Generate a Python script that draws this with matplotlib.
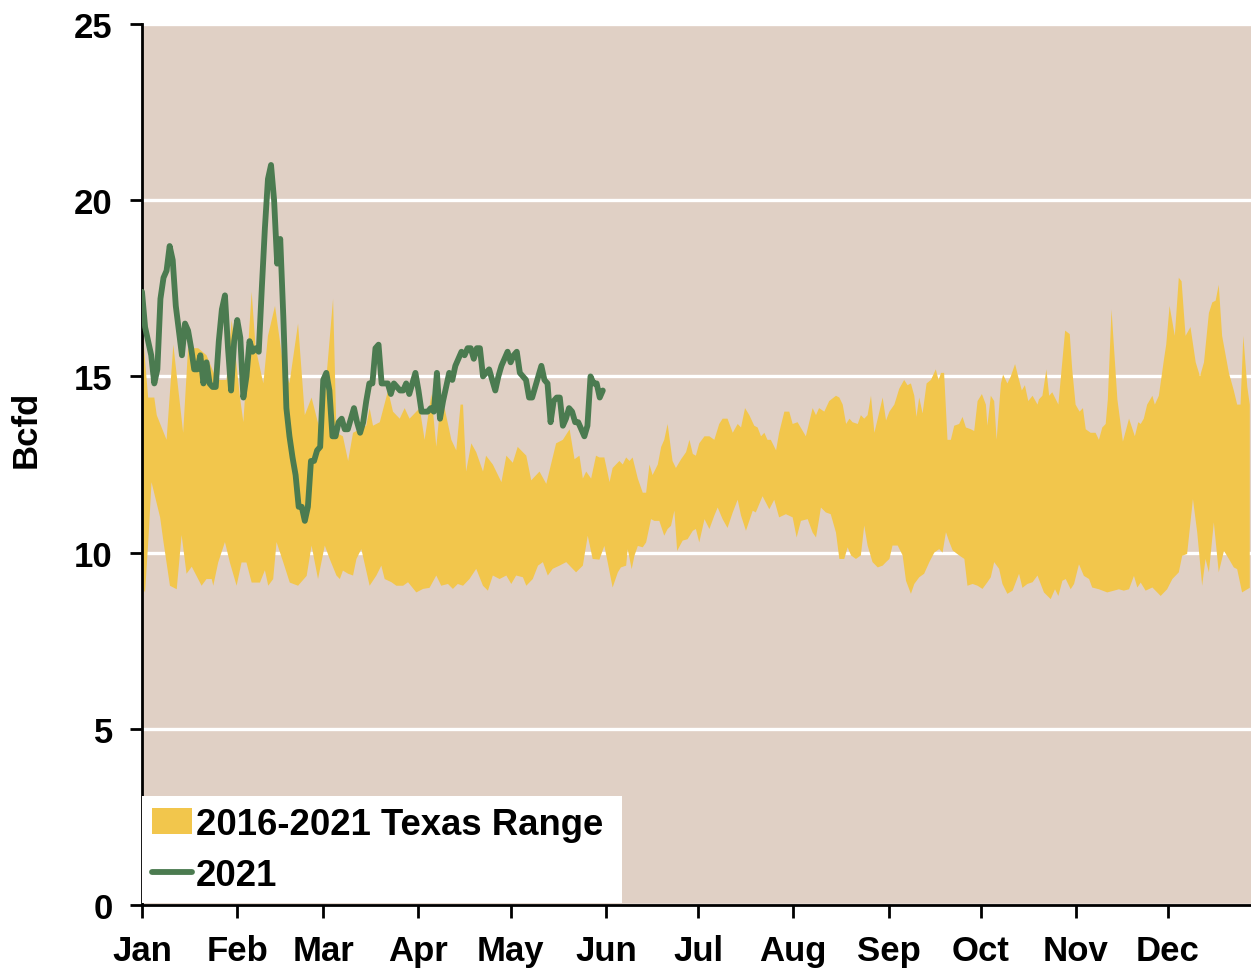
import numpy as np
import matplotlib.pyplot as plt

# --- data (x = day of year, y = Bcfd) ---
month_start = [0, 31, 59, 90, 120, 151, 181, 212, 243, 273, 304, 334]
month_names = ['Jan', 'Feb', 'Mar', 'Apr', 'May', 'Jun',
               'Jul', 'Aug', 'Sep', 'Oct', 'Nov', 'Dec']

# top edge of the 2016-2021 range
upper_days = [0, 2, 4, 4.8, 8, 10.2, 13.4, 15, 18.3, 21, 24.3, 27.5, 29.2, 31.9, 33,
              35.7, 37, 39.5, 41, 43.3, 46, 48, 50.8, 53, 55.2, 58.4, 62.2,
              63.3, 65.4, 67.1, 68.7, 70.9, 73, 74.1, 75.2, 77.4, 80.1, 81.7, 83.9,
              85.5, 87.1, 90.4, 92, 94.2, 95.8, 96.9, 98.5, 100.7, 102.3, 103.7,
              104.5, 105.5, 107.2, 108.8, 111, 112, 114.2, 117, 118.6, 120.7, 122.3,
              125.1, 126.7, 129.4, 131.6, 134.8, 137, 139.2, 140.8, 142.4, 143.5,
              144.6, 146.2, 147.8,
              148.9, 150.5, 152.2, 153.2, 155.4, 156.5, 157.6, 158.7, 159.7, 161.4,
              163, 164.1, 165.2, 166.2, 167.9, 169, 170, 171.1, 172.7, 173.8, 175.5,
              177.1, 178.2, 179.3, 180.3, 181.4, 183.1, 184.7, 186.3, 187.9, 189,
              190.6, 192.3, 193.9, 195, 196.3, 197.7, 199.3, 200.4, 201.5, 202.6,
              203.6, 204.7, 206.4, 207.4, 209.1, 210.7, 211.8, 213.4, 216.1, 218.3,
              219.4, 220.4, 222.1, 223.7, 225.9,
              227, 228.1, 229.2, 230.3, 231.3, 233, 234, 235.1, 236.2, 237.3, 238.4,
              239.5, 241.1, 242.2, 243.3, 244.9, 246.5, 248.1, 249.2, 250.3, 251.4,
              252.1, 253, 254.1, 255.4, 256.8, 258.4, 259.3, 260.1, 261.1, 262.2,
              263.3, 264.4, 266, 267.1, 268.2, 269.8, 270.9, 272, 273.4, 274.7,
              275.2, 276.3, 277.4, 278.2, 279.6, 280.3, 281.7, 282.8, 284.2, 285.5,
              286.4, 287.4, 288.5, 289.9, 291.5,
              292, 293.1, 294.4, 295.3, 296.3, 298.3, 300.5, 302, 302.8, 303.9,
              305.2, 306.3, 307.2, 308.8, 310.4, 311.5, 312.6, 313.7, 314.4, 315.6,
              317.5, 319.3, 321.3, 323.2, 324.3, 325.1, 326.1, 327.2, 328.9, 329.7,
              331, 332.7, 333.4, 334.5, 336.2, 337.5, 338.4, 339.7, 341.3, 343,
              344.4, 345.7, 347.3, 348.4, 349.5, 350.5, 351.6, 353.8, 355.4, 356.5,
              357.6, 358.5, 359.8, 360.6]
upper_bcfd = [16.5, 14.4, 14.4, 13.9, 13.2, 15.9, 13.4, 15.8, 15.8, 15.6, 14.9, 14.9, 16.6, 14.4, 13.7,
              17.4, 15.8, 14.8, 16.15, 17.0, 15.3, 14.8, 16.5, 13.9, 14.4, 13.3, 17.2,
              13.4, 13.3, 12.6, 13.4, 13.5, 13.6, 14.1, 13.6, 13.7, 14.6, 14.0, 13.8,
              14.1, 13.8, 14.1, 13.2, 14.5, 13.0, 14.0, 14.1, 13.2, 12.9, 14.2,
              14.2, 12.3, 13.1, 12.85, 12.3, 12.75, 12.5, 12.0, 12.75, 12.55, 13.0,
              12.75, 12.05, 12.3, 11.95, 13.1, 13.2, 13.5, 12.65, 12.75, 12.1,
              12.3, 12.1, 12.75,
              12.7, 12.7, 12.0, 12.4, 12.6, 12.5, 12.7, 12.6, 12.7, 12.1,
              11.7, 11.7, 12.5, 12.2, 12.5, 13.0, 13.2, 13.65, 12.6, 12.4, 12.65,
              12.85, 13.2, 12.8, 12.75, 13.1, 13.3, 13.3, 13.2, 13.65, 13.8,
              13.8, 13.4, 13.65, 13.55, 14.1, 13.9, 13.6, 13.55, 13.3, 13.4,
              13.2, 13.2, 12.9, 13.4, 14.0, 14.0, 13.65, 13.7, 13.3, 14.1,
              13.9, 14.1, 14.0, 14.3, 14.45,
              14.4, 14.2, 13.65, 13.8, 13.7, 13.65, 13.9, 13.8, 13.9, 14.45, 13.4,
              13.8, 14.4, 13.75, 14.0, 14.2, 14.65, 14.9, 14.75, 14.8, 14.45,
              13.85, 14.4, 13.95, 14.8, 14.9, 15.2, 14.9, 15.1, 15.1, 13.2,
              13.2, 13.6, 13.65, 13.85, 13.55, 13.5, 13.45, 14.3, 14.5, 14.2,
              13.6, 14.45, 14.3, 13.2, 14.8, 15.05, 14.8, 15.0, 15.35, 14.9,
              14.6, 14.75, 14.3, 14.45, 14.2,
              14.35, 14.45, 15.2, 14.45, 14.55, 14.2, 16.3, 16.2, 15.2, 14.2,
              14.0, 14.1, 13.5, 13.4, 13.4, 13.2, 13.55, 13.65, 14.35, 16.9,
              14.35, 13.15, 13.8, 13.3, 13.7, 13.65, 13.8, 14.2, 14.45, 14.2,
              14.45, 15.5, 15.9, 17.0, 16.15, 17.8, 17.7, 16.15, 16.4, 15.4,
              15.0, 15.4, 16.8, 17.1, 17.15, 17.6, 16.15, 15.1, 14.6, 14.2,
              14.2, 16.15, 14.7, 14.2]

# bottom edge of the 2016-2021 range
lower_days = [0, 1, 2.1, 3.1, 5.9, 7, 9.1, 11.3, 12.9, 14.5, 16.2, 19.4, 21, 22.7, 23.2,
              24.8, 27, 28.6, 30.8, 32.4, 34, 35.7, 38.4, 40, 41.1, 42.7, 43.8, 46,
              48.1, 50.8, 53.6, 55.2, 57.3, 59.5,
              61.1, 63.3, 64.4, 65.4, 67.1, 68.7, 69.8, 71.4, 74.1, 76.3, 77.9, 79,
              81.2, 82.8, 85, 86.6, 89.3, 91.5, 93.6, 95.8, 97.4, 99.6, 101.2, 102.8,
              104.5, 106.6, 108.8, 111, 112.6, 114.2, 116.4, 118.6, 120.2, 121.8, 124,
              125.1, 127.2, 128.9, 130.5, 132.1, 133.7, 135.9, 138.1, 141.3, 143.5,
              145.1, 146.7,
              148.9, 150.5, 151.6, 153.2, 154.9, 155.9, 157.6, 158.1, 159.4, 160.3,
              161.4, 163, 164.1, 165.7, 166.8, 168.4, 170, 171.1, 172.2, 173.3, 174.2,
              176, 177.6, 179.3, 180.3, 181.4, 183.1, 184.7, 186.3, 187.4, 189, 190.6,
              192.3, 193.9, 195, 196.6, 198.8, 199.8, 202, 204.2, 205.8, 207.4, 209.6,
              211.8, 213.1, 214.5, 216.7, 218.3, 219.4, 220.4, 221, 222.6, 224.2, 225.9,
              227, 228.6, 229.7, 230.8, 232.4, 234, 235.1, 236.2, 237.8, 239.5, 241.1,
              242.2, 243.3, 244.3, 246, 247.6, 248.7, 250.3, 251.4, 253, 254.6, 256.3,
              257.9, 259.5, 260.6, 261.7, 262.8, 263.9, 266, 267.7, 268.7, 270.4, 272,
              273.6, 275.2, 276.3, 277.4, 279, 280.1, 281.7, 283.4, 285.5, 286.6,
              288.2, 289.9, 291.5,
              293.6, 295.8, 297.2, 298.3, 299.6, 300.7, 302.3, 303.4, 305, 306.6,
              308.3, 309.3, 311.5, 314.2, 316.4, 318, 319.6, 321.3, 322.9, 324, 325.1,
              326.7, 328.9, 331.6, 333.7, 335.4, 337.5, 338.6, 340.2, 342.1, 343.5,
              345.1, 346.2, 347.3, 348.9, 350.5, 352.2, 353.8, 355.4, 356.5, 358.1,
              359.8, 360.6]
lower_bcfd = [9.06, 8.87, 10.4, 12.0, 11.0, 10.3, 9.06, 8.96, 10.5, 9.4, 9.6, 9.06, 9.25, 9.25, 9.06,
              9.72, 10.3, 9.72, 9.06, 9.72, 9.72, 9.15, 9.15, 9.5, 9.06, 9.25, 10.3, 9.72,
              9.15, 9.06, 9.34, 10.2, 9.25, 10.2,
              9.82, 9.35, 9.25, 9.49, 9.4, 9.35, 9.82, 10.1, 9.06, 9.35, 9.63, 9.25,
              9.16, 9.06, 9.06, 9.16, 8.87, 8.97, 9.0, 9.35, 9.06, 9.11, 8.97, 9.11,
              9.06, 9.25, 9.54, 9.06, 8.92, 9.35, 9.25, 9.35, 9.11, 9.35, 9.3,
              9.06, 9.25, 9.63, 9.73, 9.35, 9.54, 9.63, 9.73, 9.44, 9.63,
              10.48, 9.82,
              9.8, 10.19, 9.72, 9.01, 9.44, 9.58, 9.63, 10.1, 9.53, 9.91,
              10.19, 10.15, 10.29, 10.95, 10.9, 10.9, 10.48, 10.67, 10.76, 11.19, 10.05,
              10.34, 10.38, 10.62, 10.67, 10.29, 10.95, 10.67, 11.05, 11.28, 10.95, 10.7,
              11.14, 11.5, 11.05, 10.62, 11.19, 11.14, 11.6, 11.23, 11.5, 11.0, 11.09,
              11.0, 10.43, 10.9, 10.95, 10.57, 10.43, 10.95, 11.28, 11.14, 11.09, 10.57,
              9.82, 9.82, 10.15, 9.92, 9.82, 9.92, 10.77, 10.2, 9.73, 9.58, 9.63,
              9.73, 9.82, 10.2, 10.2, 9.92, 9.2, 8.83, 9.11, 9.3, 9.4, 9.73,
              10.0, 10.1, 10.0, 10.58, 10.3, 10.06, 9.92, 9.82, 9.06, 9.11, 9.06,
              8.97, 9.16, 9.3, 9.73, 9.54, 9.11, 8.83, 8.92, 9.4, 9.0,
              9.11, 9.16, 9.35,
              8.87, 8.68, 8.96, 8.77, 9.2, 9.25, 8.96, 9.11, 9.67, 9.34,
              9.25, 9.01, 8.96, 8.87, 8.92, 8.96, 8.92, 8.96, 9.34, 9.01, 9.15,
              8.92, 9.01, 8.77, 8.96, 9.25, 9.44, 9.91, 9.96, 11.52, 10.57,
              9.06, 9.82, 9.44, 10.86, 9.44, 10.05, 9.82, 9.58, 9.53, 8.87,
              8.96, 9.0]

# 2021 daily values, Jan 1 onward
bcfd_2021 = [17.4, 16.4, 16.0, 15.6, 14.8, 15.2, 17.2, 17.8, 18.0, 18.7,
             18.3, 17.0, 16.3, 15.6, 16.5, 16.3, 15.8, 15.2, 15.2, 15.6,
             14.8, 15.4, 14.8, 14.7, 14.7, 16.0, 16.9, 17.3, 15.8, 14.6,
             16.0, 16.6, 16.1, 14.4, 15.0, 16.0, 15.7, 15.8, 15.7, 17.5,
             19.2, 20.6, 21.0, 20.0, 18.2, 18.9, 16.7, 14.1, 13.3, 12.7,
             12.2, 11.3, 11.3, 10.9, 11.3, 12.6, 12.6, 12.9, 13.0, 14.9,
             15.1, 14.6, 13.3, 13.3, 13.7, 13.8, 13.5, 13.5, 13.8, 14.1,
             13.7, 13.4, 13.7, 14.3, 14.8, 14.8, 15.8, 15.9, 14.8, 14.8,
             14.8, 14.5, 14.8, 14.7, 14.6, 14.6, 14.8, 14.5, 14.8, 15.1,
             14.6, 14.0, 14.0, 14.0, 14.1, 14.0, 15.1, 13.8, 14.3, 14.7,
             15.1, 14.9, 15.3, 15.5, 15.7, 15.6, 15.8, 15.8, 15.5, 15.8,
             15.8, 15.0, 15.1, 15.2, 14.9, 14.6, 15.0, 15.3, 15.5, 15.7,
             15.4, 15.6, 15.7, 15.1, 15.0, 14.9, 14.4, 14.4, 14.7, 15.0,
             15.3, 14.9, 14.8, 13.7, 14.3, 14.4, 14.4, 13.6, 13.8, 14.1,
             14.0, 13.7, 13.7, 13.5, 13.3, 13.6, 15.0, 14.8, 14.8, 14.4,
             14.6]
days_2021 = np.arange(len(bcfd_2021))

plt.rcParams['font.family'] = ['Liberation Sans', 'DejaVu Sans']
plt.rcParams['font.weight'] = 'bold'

fig = plt.figure(figsize=(12.51, 9.70), dpi=100)
ax = fig.add_axes([142 / 1251, 64 / 970, 1 - 142 / 1251, 881 / 970])
ax.set_facecolor('#E0D0C5')

# range band as one polygon: top edge left to right, bottom edge back
band_x = np.concatenate([upper_days, lower_days[::-1]])
band_y = np.concatenate([upper_bcfd, lower_bcfd[::-1]])
ax.fill(band_x, band_y, color='#F2C64C', lw=0, zorder=2,
        label='2016-2021 Texas Range')
ax.plot(days_2021, bcfd_2021, color='#4B7B50', lw=4.2, zorder=3,
        solid_joinstyle='round', solid_capstyle='round', label='2021')

ax.set_xlim(0, 361)
ax.set_ylim(0, 25)
ax.set_yticks(range(0, 26, 5))
ax.set_xticks(month_start, month_names)
ax.grid(axis='y', color='white', lw=2.4)
ax.grid(axis='x', visible=False)
ax.set_axisbelow(True)

for side in ['top', 'right']:
    ax.spines[side].set_visible(False)
for side in ['left', 'bottom']:
    ax.spines[side].set_linewidth(2)
    ax.spines[side].set_color('black')

ax.tick_params(axis='both', direction='out', length=9, width=2, labelsize=25)
ax.tick_params(axis='y', pad=12)
ax.tick_params(axis='x', pad=12)

ax.set_ylabel('Bcfd', fontsize=25, fontweight='bold')
ax.yaxis.set_label_coords(-0.09, 0.541)

# white legend box in the lower left corner, ~480 px wide
leg = ax.legend(loc='lower left', bbox_to_anchor=(0, 0.002, 480 / 1109, 0),
                mode='expand', fontsize=26.3,
                frameon=True, fancybox=False, framealpha=1, facecolor='white',
                edgecolor='none', handlelength=1.1, handletextpad=0.1,
                labelspacing=0.45, borderpad=0.28, borderaxespad=0)
leg.set_zorder(5)

fig.savefig('out.png', dpi=100)
